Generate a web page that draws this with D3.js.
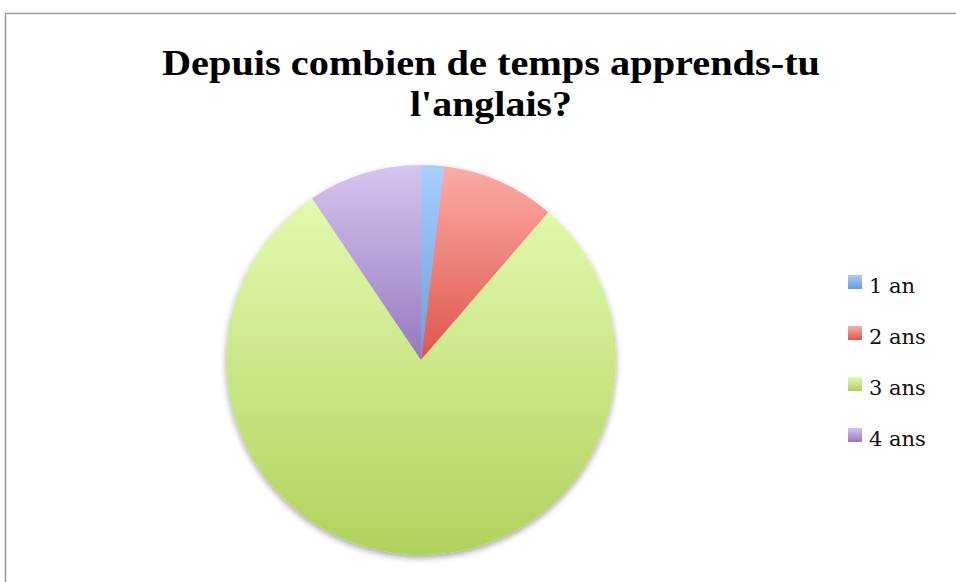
<!DOCTYPE html>
<html>
<head>
<meta charset="utf-8">
<script src="https://cdn.jsdelivr.net/npm/d3@7"></script>
<style>
  body { margin: 0; background: #fff; }
  svg { display: block; }
</style>
</head>
<body>
<div class="chart"></div>
<script>
// survey answers
const labels = ['1 an', '2 ans', '3 ans', '4 ans'];
const counts = [1, 5, 42, 5];
const topColors = ['#a8cfff', '#fcaca6', '#e2faae', '#d6c5f0'];
const bottomColors = ['#679dda', '#de5549', '#b0d25c', '#9679be'];
const title = ["Depuis combien de temps apprends-tu", "l'anglais?"];

const width = 956, height = 582;
const cx = 421, cy = 360, radius = 195;

let svg = d3.select('.chart').append('svg')
    .attr('width', width)
    .attr('height', height);

let defs = svg.append('defs');

// soft shadow under the pie
let shadow = defs.append('filter')
    .attr('id', 'shadow')
    .attr('x', '-10%').attr('y', '-10%')
    .attr('width', '120%').attr('height', '125%');
shadow.append('feGaussianBlur').attr('in', 'SourceAlpha').attr('stdDeviation', 3);
shadow.append('feOffset').attr('dx', 0).attr('dy', 3).attr('result', 'off');
shadow.append('feComponentTransfer').append('feFuncA').attr('type', 'linear').attr('slope', 0.35);
let merge = shadow.append('feMerge');
merge.append('feMergeNode');
merge.append('feMergeNode').attr('in', 'SourceGraphic');

labels.forEach(function(l, i) {
    let g = defs.append('linearGradient')
        .attr('id', 'grad' + i)
        .attr('x1', 0).attr('y1', 0).attr('x2', 0).attr('y2', 1);
    g.append('stop').attr('offset', '0%').attr('stop-color', topColors[i]);
    g.append('stop').attr('offset', '100%').attr('stop-color', bottomColors[i]);
});

// frame
svg.append('rect')
    .attr('x', 5.5).attr('y', 13.5)
    .attr('width', 960).attr('height', 600)
    .attr('fill', 'none')
    .attr('stroke', '#9a9a9a')
    .attr('stroke-width', 1.5);

// title
let t = svg.append('g').attr('font-family', "'Liberation Serif', 'DejaVu Serif', serif")
    .attr('font-weight', 'bold')
    .attr('font-size', 36)
    .attr('text-anchor', 'middle');
t.append('text').attr('x', 491).attr('y', 75)
    .attr('textLength', 658).attr('lengthAdjust', 'spacingAndGlyphs')
    .text(title[0]);
t.append('text').attr('x', 491).attr('y', 116)
    .attr('textLength', 162).attr('lengthAdjust', 'spacingAndGlyphs')
    .text(title[1]);

// pie
const pie = d3.pie().sort(null).value(function(d) { return d; });
const arc = d3.arc().innerRadius(0).outerRadius(radius);

let pieG = svg.append('g')
    .attr('transform', 'translate(' + cx + ',' + cy + ')')
    .attr('filter', 'url(#shadow)');

pieG.selectAll('path')
    .data(pie(counts))
    .enter().append('path')
    .attr('d', arc)
    .attr('fill', function(d, i) { return 'url(#grad' + i + ')'; });

// legend
const legendY = d3.scalePoint().domain(labels).range([293, 446]);
let legend = svg.append('g');
let items = legend.selectAll('g')
    .data(labels)
    .enter().append('g')
    .attr('transform', function(d) { return 'translate(848,' + legendY(d) + ')'; });
items.append('rect')
    .attr('x', 0).attr('y', -18)
    .attr('width', 14).attr('height', 14)
    .attr('fill', function(d, i) { return 'url(#grad' + i + ')'; });
items.append('text')
    .attr('x', 21).attr('y', 0)
    .attr('font-family', "'DejaVu Serif', 'Liberation Serif', serif")
    .attr('font-size', 21)
    .attr('fill', '#111')
    .text(function(d) { return d; });
</script>
</body>
</html>
